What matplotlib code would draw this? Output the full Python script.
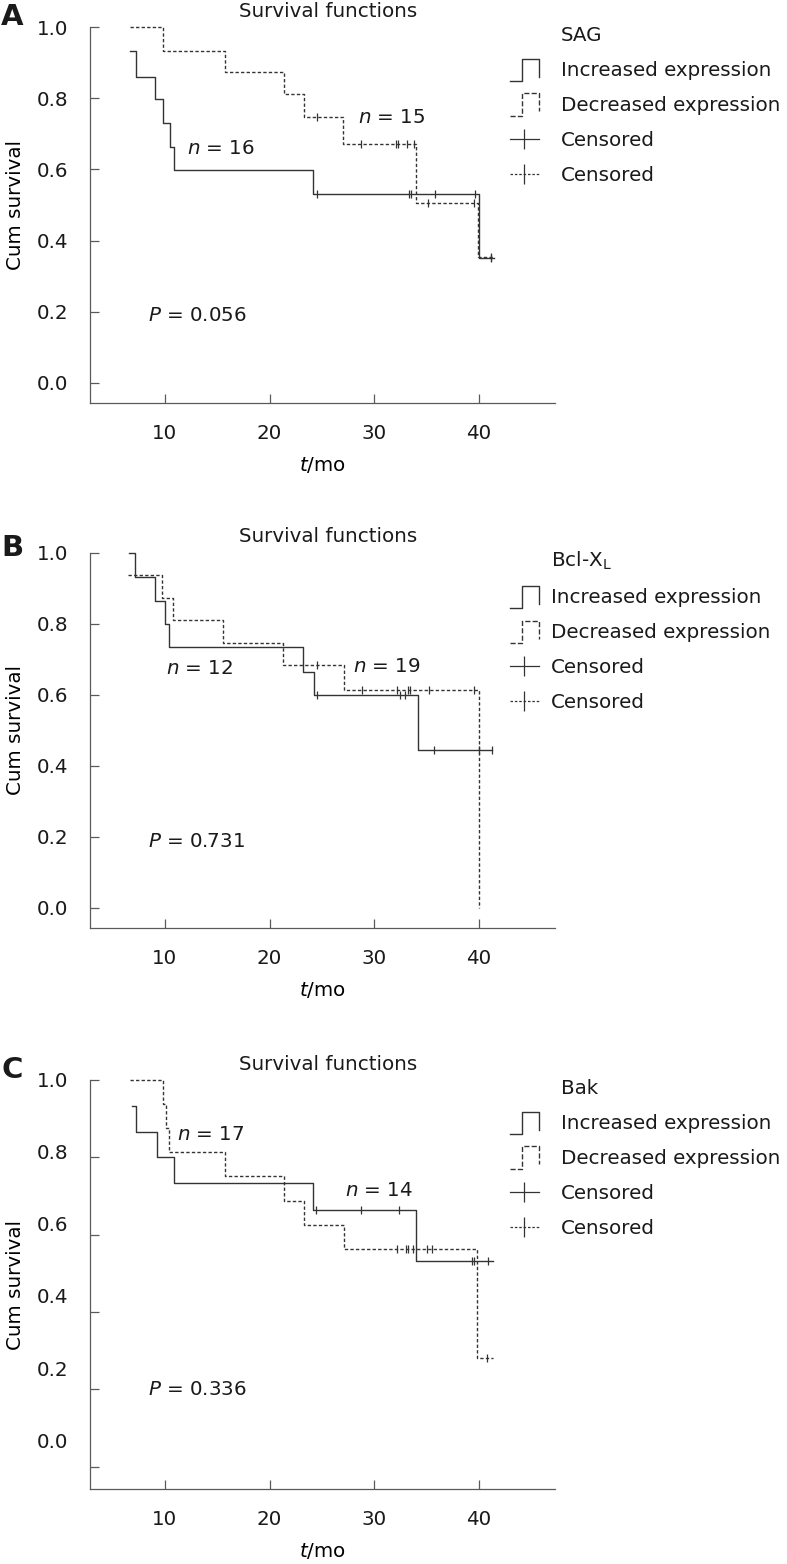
import numpy as np
import matplotlib
matplotlib.use("Agg")
import matplotlib.pyplot as plt
from matplotlib.lines import Line2D
from matplotlib.legend_handler import HandlerBase

# Panel names / annotations
letters = ["A", "B", "C"]
genes = ["SAG", "Bcl-X$_\\mathregular{L}$", "Bak"]
n_inc = [16, 12, 14]
n_dec = [15, 19, 17]
p_values = ["0.056", "0.731", "0.336"]

x_ticks = [10, 20, 30, 40]
y_ticks = [0.0, 0.2, 0.4, 0.6, 0.8, 1.0]

# Panel A (SAG) - step times (months) and cumulative survival
a_inc_t = [6.65, 7.23, 9.0, 9.8, 10.5, 10.86, 24.1, 39.97, 41.4]
a_inc_s = [0.932, 0.861, 0.798, 0.730, 0.662, 0.598, 0.531, 0.350, 0.350]
a_inc_cens = [24.5, 33.3, 33.5, 35.8, 39.6, 41.1]
a_dec_t = [6.65, 9.84, 15.7, 21.4, 23.3, 27.05, 34.0, 39.9, 41.4]
a_dec_s = [1.0, 0.934, 0.873, 0.811, 0.747, 0.673, 0.507, 0.355, 0.355]
a_dec_cens = [24.5, 28.74, 32.1, 32.3, 33.1, 33.8, 35.1, 39.5, 41.1]

# Panel B (Bcl-XL)
b_inc_t = [6.55, 7.1, 9.04, 9.97, 10.38, 23.21, 24.2, 34.19, 41.2]
b_inc_s = [1.0, 0.931, 0.864, 0.799, 0.734, 0.663, 0.598, 0.445, 0.445]
b_inc_cens = [24.52, 32.47, 32.95, 35.69, 40.0, 41.2]
b_dec_t = [6.49, 9.74, 10.73, 15.55, 21.24, 27.14, 40.0]
b_dec_s = [0.936, 0.873, 0.811, 0.745, 0.684, 0.612, 0.0]
b_dec_cens = [24.49, 28.83, 32.15, 33.2, 33.36, 35.2, 39.52]

# Panel C (Bak)
c_inc_t = [6.82, 7.23, 9.24, 10.89, 24.11, 33.98, 41.33]
c_inc_s = [0.932, 0.866, 0.802, 0.733, 0.664, 0.531, 0.531]
c_inc_cens = [24.46, 28.73, 32.36, 39.3, 39.52, 40.89]
c_dec_t = [6.66, 9.84, 10.06, 10.41, 15.70, 21.37, 23.31, 27.13, 39.84, 41.33]
c_dec_s = [1.0, 0.938, 0.877, 0.813, 0.752, 0.687, 0.626, 0.563, 0.281, 0.281]
c_dec_cens = [32.13, 33.02, 33.25, 33.66, 35.0, 35.48, 40.79]

inc_data = [(a_inc_t, a_inc_s, a_inc_cens), (b_inc_t, b_inc_s, b_inc_cens), (c_inc_t, c_inc_s, c_inc_cens)]
dec_data = [(a_dec_t, a_dec_s, a_dec_cens), (b_dec_t, b_dec_s, b_dec_cens), (c_dec_t, c_dec_s, c_dec_cens)]

# ---- layout (pixels in the 787x1564 image) ----
W, H = 787, 1564
FS = 14.3
LINE = "#333333"
SPINE = "#5a5a5a"
TXT = "#1a1a1a"
plt.rcParams["font.family"] = ["DejaVu Sans"]
plt.rcParams["font.size"] = FS
plt.rcParams["mathtext.fontset"] = "dejavusans"
plt.rcParams["text.color"] = TXT

# y pixel of S=1 and S=0, y pixel of the "0.0" label, legend top, letter y, ylabel y
layout = [
    dict(y1=27.3, y0=382.7, lab0=382.7, leg_top=26, letter_y=17, ylab=205, pad_txt=1.1, n_pos=[(12.07, 0.66), (28.44, 0.747)], p_pos=(8.38, 0.19)),
    dict(y1=552.7, y0=907.7, lab0=907.7, leg_top=550, letter_y=548, ylab=730, pad_txt=0.6, n_pos=[(10.10, 0.674), (27.99, 0.679)], p_pos=(8.40, 0.186)),
    dict(y1=1080.0, y0=1466.7, lab0=1440.0, leg_top=1079, letter_y=1070, ylab=1285, pad_txt=1.1, n_pos=[(27.19, 0.715), (11.12, 0.858)], p_pos=(8.40, 0.199)),
]
X_LEFT, X_RIGHT = 90, 555
T0_PX, PX_PER_T = 60.33, 10.467
YLO, YHI = -0.057, 1.03


def px_to_t(px):
    return (px - T0_PX) / PX_PER_T


def step_value(times, surv, t):
    idx = np.searchsorted(np.asarray(times), np.asarray(t), side="right") - 1
    idx = np.clip(idx, 0, len(surv) - 1)
    return np.asarray(surv)[idx]


class StepHandler(HandlerBase):
    def create_artists(self, legend, orig_handle, xdescent, ydescent,
                       width, height, fontsize, trans):
        x0, y0 = -xdescent, -ydescent
        xm = x0 + 0.42 * width
        x1 = x0 + width
        yb = y0 - 0.35 * height
        yt = y0 + 1.25 * height
        line = Line2D([x0, xm, xm, x1, x1], [yb, yb, yt, yt, yb + 0.3 * height],
                      color=orig_handle.get_color(),
                      linestyle=orig_handle.get_linestyle(),
                      linewidth=orig_handle.get_linewidth())
        line.set_transform(trans)
        return [line]


fig = plt.figure(figsize=(W / 100, H / 100), dpi=100)
dashes = (0, (2.4, 1.6))

for i, lay in enumerate(layout):
    scale = lay["y0"] - lay["y1"]
    top = lay["y0"] - YHI * scale
    bot = lay["y0"] - YLO * scale
    ax = fig.add_axes([X_LEFT / W, 1 - bot / H, (X_RIGHT - X_LEFT) / W, (bot - top) / H])
    ax.set_xlim(px_to_t(X_LEFT), px_to_t(X_RIGHT))
    ax.set_ylim(YLO, YHI)

    for (t, s, cens), ls in [(inc_data[i], "-"), (dec_data[i], dashes)]:
        ax.step(t, s, where="post", color=LINE, lw=1.0, linestyle=ls, clip_on=False)
        ax.plot(cens, step_value(t, s, cens), linestyle="none", marker="|",
                markersize=6, mew=0.9, color=LINE, clip_on=False)

    for side in ["top", "right"]:
        ax.spines[side].set_visible(False)
    for side in ["left", "bottom"]:
        ax.spines[side].set_color(SPINE)
        ax.spines[side].set_linewidth(0.9)
    ax.spines["left"].set_bounds(YLO, 1.0)

    ax.set_xticks(x_ticks)
    ax.set_yticks(y_ticks, ["%.1f" % v for v in y_ticks])
    ax.tick_params(direction="in", length=6.5, width=0.9, color=SPINE,
                   labelcolor=TXT, labelsize=FS)
    ax.tick_params(axis="y", pad=15.8)
    ax.tick_params(axis="x", pad=15)

    if lay["lab0"] != lay["y0"]:
        # tick labels of this panel sit on a slightly compressed scale
        off = (lay["y0"] - lay["lab0"]) / scale
        k = 1 - off
        sec = ax.secondary_yaxis("left", functions=(lambda y, o=off, k=k: (y - o) / k,
                                                    lambda v, o=off, k=k: o + k * v))
        sec.set_yticks(y_ticks, ["%.1f" % v for v in y_ticks])
        sec.tick_params(length=0, pad=15.8, labelsize=FS, labelcolor=TXT)
        sec.spines["left"].set_visible(False)
        ax.tick_params(axis="y", labelleft=False)

    ax.set_xlabel("$t$/mo", labelpad=9)
    ax.set_ylabel("Cum survival")
    ax.yaxis.set_label_coords(-0.14, (bot - lay["ylab"]) / (bot - top))

    ax.annotate("Survival functions", xy=(0.512, 1.0), xycoords=("axes fraction", "data"),
                xytext=(0, 11.5), textcoords="offset points", ha="center", va="center")

    (nx1, ny1), (nx2, ny2) = lay["n_pos"]
    ax.text(nx1, ny1, "$n$ = %d" % n_inc[i], ha="left", va="center")
    ax.text(nx2, ny2, "$n$ = %d" % n_dec[i], ha="left", va="center")
    ax.text(lay["p_pos"][0], lay["p_pos"][1], "$P$ = %s" % p_values[i], ha="left", va="center")

    fig.text(12 / W, 1 - lay["letter_y"] / H, letters[i], fontsize=21, fontweight="bold",
             ha="center", va="center")

    title_h = Line2D([], [], linestyle="none")
    inc_h = Line2D([], [], color=LINE, lw=1.0, linestyle="-")
    dec_h = Line2D([], [], color=LINE, lw=1.0, linestyle=(0, (1.5, 1.2)))
    cen1 = Line2D([], [], color=LINE, lw=0.9, linestyle="-", marker="|", markersize=14, mew=0.9)
    cen2 = Line2D([], [], color=LINE, lw=0.9, linestyle=(0, (2.0, 1.5)), marker="|",
                  markersize=14, mew=0.9)
    ax.legend([title_h, inc_h, dec_h, cen1, cen2],
              [genes[i], "Increased expression", "Decreased expression", "Censored", "Censored"],
              handler_map={inc_h: StepHandler(), dec_h: StepHandler()},
              loc="upper left", bbox_to_anchor=(510 / W, 1 - lay["leg_top"] / H),
              bbox_transform=fig.transFigure, frameon=False, borderpad=0,
              borderaxespad=0, handlelength=1.45, handletextpad=lay["pad_txt"],
              labelspacing=0.8, numpoints=1, fontsize=FS)

fig.savefig("out.png", dpi=100)
